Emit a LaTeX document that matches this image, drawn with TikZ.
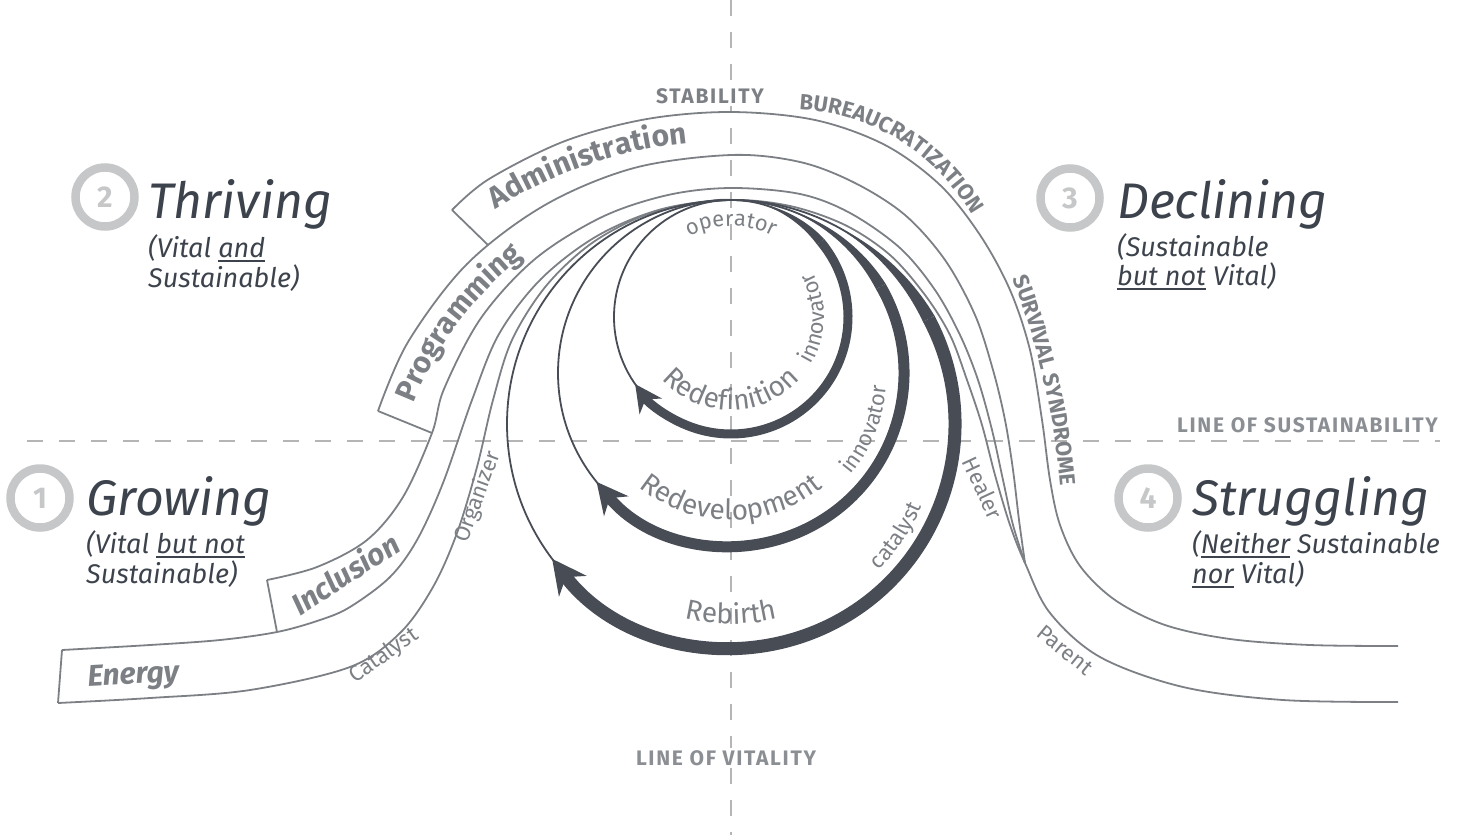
\documentclass[tikz,border=0pt]{standalone}
\usepackage{fontspec}
\setmainfont{Fira Sans}
\newfontfamily\cyclecapsface[LetterSpace=8]{Fira Sans}
\usetikzlibrary{calc}
\usetikzlibrary{arrows.meta}
\usetikzlibrary{decorations.text}
\definecolor{color_cycle_title}{HTML}{3D434C}
\definecolor{color_cycle_band}{HTML}{7C8085}
\definecolor{color_cycle_loop}{HTML}{474C55}
\definecolor{color_cycle_ring}{HTML}{C6C7C8}
\definecolor{color_cycle_axis}{HTML}{B5B5B5}
\definecolor{color_cycle_axis_label}{HTML}{8B8F94}
\def\cyclebandlinewidth{1.8pt}
\def\cyclethinlinewidth{1.8pt}
\def\cyclecx{731}
\def\cycletop{200}
\def\cyclecapsfont{\cyclecapsface\bfseries\fontsize{21}{21}\selectfont}
\def\cyclepathcapsfont{\bfseries\fontsize{22}{22}\selectfont}
\def\cyclesmallfont{\fontsize{22}{22}\selectfont}
\def\cyclebigfont{\fontsize{28}{28}\selectfont}
\def\cyclestagefont{\bfseries\fontsize{30}{30}\selectfont}
\def\cycleul#1{\leavevmode\setbox0\hbox{#1}\rlap{\rule[-4.5pt]{\wd0}{1.6pt}}\box0\relax}
% one loop: radius, thick width, taper from, taper to, tip angle, head size
\def\cycleloop(#1,#2,#3,#4,#5,#6){
    \draw[color_cycle_loop, line width=\cyclethinlinewidth] (\cyclecx,{\cycletop+#1}) circle[radius=#1];
    \fill[color_cycle_loop] plot[domain=#3:#4, samples=24] ({\cyclecx+(#1+#2/2*(\x-(#3))/((#4)-(#3)))*cos(\x)}, {\cycletop+#1+(#1+#2/2*(\x-(#3))/((#4)-(#3)))*sin(\x)})
        -- plot[domain=#4:#3, samples=24] ({\cyclecx+(#1-#2/2*(\x-(#3))/((#4)-(#3)))*cos(\x)}, {\cycletop+#1+(#1-#2/2*(\x-(#3))/((#4)-(#3)))*sin(\x)}) -- cycle;
    \draw[color_cycle_loop, line width=#2pt, -{Stealth[length=#6pt, width=#6pt]}] ($(\cyclecx,{\cycletop+#1})+(#4:#1)$) arc[start angle=#4, end angle=#5, radius=#1];
}
% text bent round an arc: centre x, centre y, radius, from, to, format, text
\def\cyclearctext(#1,#2,#3,#4,#5)#6#7{
    \path[decorate, decoration={text along path, text align=center, text={|#6|#7}}] ($(#1,#2)+(#4:#3)$) arc[start angle=#4, end angle=#5, radius=#3];
}

\begin{document}
\begin{tikzpicture}[x=1pt, y=-1pt,
    band/.style={color_cycle_band, line width=\cyclebandlinewidth},
    axis/.style={color_cycle_axis, line width=2pt, dash pattern=on 16pt off 16pt},
    title/.style={color_cycle_title, font=\itshape\fontsize{50}{50}\selectfont, anchor=base west, inner sep=0pt},
    subtitle/.style={color_cycle_title, font=\itshape\fontsize{27}{27}\selectfont, anchor=base west, inner sep=0pt},
    ringnum/.style={color_cycle_ring, font=\bfseries\fontsize{30}{30}\selectfont, inner sep=0pt},
    stagelabel/.style={color_cycle_band, font=\cyclestagefont\itshape, inner sep=0pt},
    smalllabel/.style={color_cycle_band, font=\cyclesmallfont, inner sep=0pt},
    capslabel/.style={color_cycle_band, font=\cyclecapsfont, inner sep=2pt},
    axislabel/.style={color_cycle_axis_label, font=\cyclecapsfont, inner sep=2pt}]
    \useasboundingbox (0,0) rectangle (1463,835);
    % lines of sustainability and vitality
    \draw[axis] (27,441) -- (1440,441);
    \draw[axis] (731,0) -- (731,835);
    % corners of the stage boxes
    \coordinate (energy_top) at (62,650);
    \coordinate (energy_bottom) at (58,703);
    \coordinate (inclusion_top) at (267,580);
    \coordinate (inclusion_bottom) at (277,632);
    \coordinate (programming_top) at (378,411);
    \coordinate (programming_bottom) at (432,433);
    \coordinate (administration_top) at (452,210);
    \coordinate (administration_bottom) at (488,245);
    \coordinate (crossing) at (1025,563);
    % the band of the life cycle
    \draw[band] plot[smooth, tension=0.55] coordinates {(administration_top) (489,179) (565,141) (647,119) (731,112) (815,120) (885,145) (940,185) (980,235) (1010,290) (1030,350) (1042,420) (1050,480) (1060,525) (1080,566) (1115,600) (1165,625) (1230,639) (1310,645) (1398,646)};
    \draw[band] plot[smooth, tension=0.55] coordinates {(programming_top) (408,342) (467,264) (545,205) (634,168) (731,155) (800,162) (855,183) (905,215) (945,260) (975,315) (993,370) (1005,420) (1013,470) (1019,520) (crossing)};
    \draw[band] plot[smooth, tension=0.55] coordinates {(inclusion_top) (317,567) (367,540) (403,497) (programming_bottom) (444,389) (481,318) (535,259) (602,217) (668,195) (731,188) (800,194) (850,213) (900,248) (935,290) (960,335) (978,380) (992,430) (1003,480) (1013,525) (crossing)};
    \draw[band] plot[smooth, tension=0.55] coordinates {(energy_top) (150,645) (220,640) (inclusion_bottom) (320,620) (350,607) (390,577) (417,540) (443,483) (472,400) (499,334) (541,279) (597,236) (662,209) (731,200) (790,206) (845,225) (890,255) (925,295) (950,335) (967,380) (982,425) (995,475) (1010,525) (crossing) (1050,613) (1100,657) (1183,687) (1283,700) (1398,702)};
    \draw[band] plot[smooth, tension=0.55] coordinates {(energy_bottom) (150,698) (250,690) (350,667) (400,633) (433,587) (457,533) (477,467) (493,400) (512,340) (546,286) (592,243) (648,214) (710,201) (731,200)};
    \draw[band] (energy_top) -- (energy_bottom);
    \draw[band] (inclusion_top) -- (inclusion_bottom);
    \draw[band] (programming_top) -- (programming_bottom);
    \draw[band] (administration_top) -- (administration_bottom);
    % the three loops of renewal
    \cycleloop(224,13,-62,-28,143,34)
    \cycleloop(173,11,-70,-30,141,31)
    \cycleloop(117,9,-75,-40,145,27)
    % numbered rings
    \foreach \n/\x/\y in {1/40/498, 2/105/197, 3/1070/198, 4/1148/498}{
        \draw[color_cycle_ring, line width=8.5pt] (\x,\y) circle[radius=29.5];
        \node[ringnum] (ring\n) at (\x,\y) {\n};
    }
    % stage titles
    \node[title] (thriving) at (148,218) {Thriving};
    \node[subtitle] (thriving_a) at (148,257) {(Vital \cycleul{and}};
    \node[subtitle] (thriving_b) at (148,287) {Sustainable)};
    \node[title] (growing) at (86,515) {Growing};
    \node[subtitle] (growing_a) at (86,553) {(Vital \cycleul{but not}};
    \node[subtitle] (growing_b) at (86,583) {Sustainable)};
    \node[title] (declining) at (1117,218) {Declining};
    \node[subtitle] (declining_a) at (1117,256) {(Sustainable};
    \node[subtitle] (declining_b) at (1117,285) {\cycleul{but not} Vital)};
    \node[title] (struggling) at (1192,515) {Struggling};
    \node[subtitle] (struggling_a) at (1192,553) {(\cycleul{Neither} Sustainable};
    \node[subtitle] (struggling_b) at (1192,583) {\cycleul{nor} Vital)};
    % labels in the band
    \node[stagelabel, rotate=3] (energy) at (134,677) {Energy};
    \node[stagelabel, rotate=33] (inclusion) at (345,573) {Inclusion};
    \cyclearctext(731,528,341,196,238){\color{color_cycle_band}\cyclestagefont}{Programming}
    \cyclearctext(731,581,440,233,269){\color{color_cycle_band}\cyclestagefont}{Administration}
    \node[capslabel, fill=white] (stability) at (710,96) {STABILITY};
    \cyclearctext(788,321,212,-95,-22){\color{color_cycle_band}\cyclepathcapsfont}{BUREAUCRATIZATION}
    \cyclearctext(322,547,741,-24.5,-1.5){\color{color_cycle_band}\cyclepathcapsfont}{SURVIVAL SYNDROME}
    \node[smalllabel, rotate=35] (catalyst_band) at (384,656) {Catalyst};
    \node[smalllabel, rotate=70] (organizer) at (478,497) {Organizer};
    \node[smalllabel, rotate=-65] (healer) at (983,488) {Healer};
    \node[smalllabel, rotate=-39] (parent) at (1065,650) {Parent};
    % labels on the loops
    \cyclearctext(731,317,91,240,300){\color{color_cycle_band}\cyclesmallfont}{operator}
    \cyclearctext(731,317,93,32,-30){\color{color_cycle_band}\cyclesmallfont}{innovator}
    \cyclearctext(731,317,93,152,28){\color{color_cycle_band}\cyclebigfont}{Redefinition}
    \cyclearctext(731,375,156,42,2){\color{color_cycle_band}\cyclesmallfont}{innovator}
    \cyclearctext(731,375,145,145,35){\color{color_cycle_band}\cyclebigfont}{Redevelopment}
    \cyclearctext(731,424,208,50,18){\color{color_cycle_band}\cyclesmallfont}{catalyst}
    \cyclearctext(731,424,200,115,65){\color{color_cycle_band}\cyclebigfont}{Rebirth}
    % axis labels
    \node[axislabel, anchor=base east] (sustainability) at (1440,432) {LINE OF SUSTAINABILITY};
    \node[axislabel, fill=white] (vitality) at (726,758) {LINE OF VITALITY};
\end{tikzpicture}
\end{document}
